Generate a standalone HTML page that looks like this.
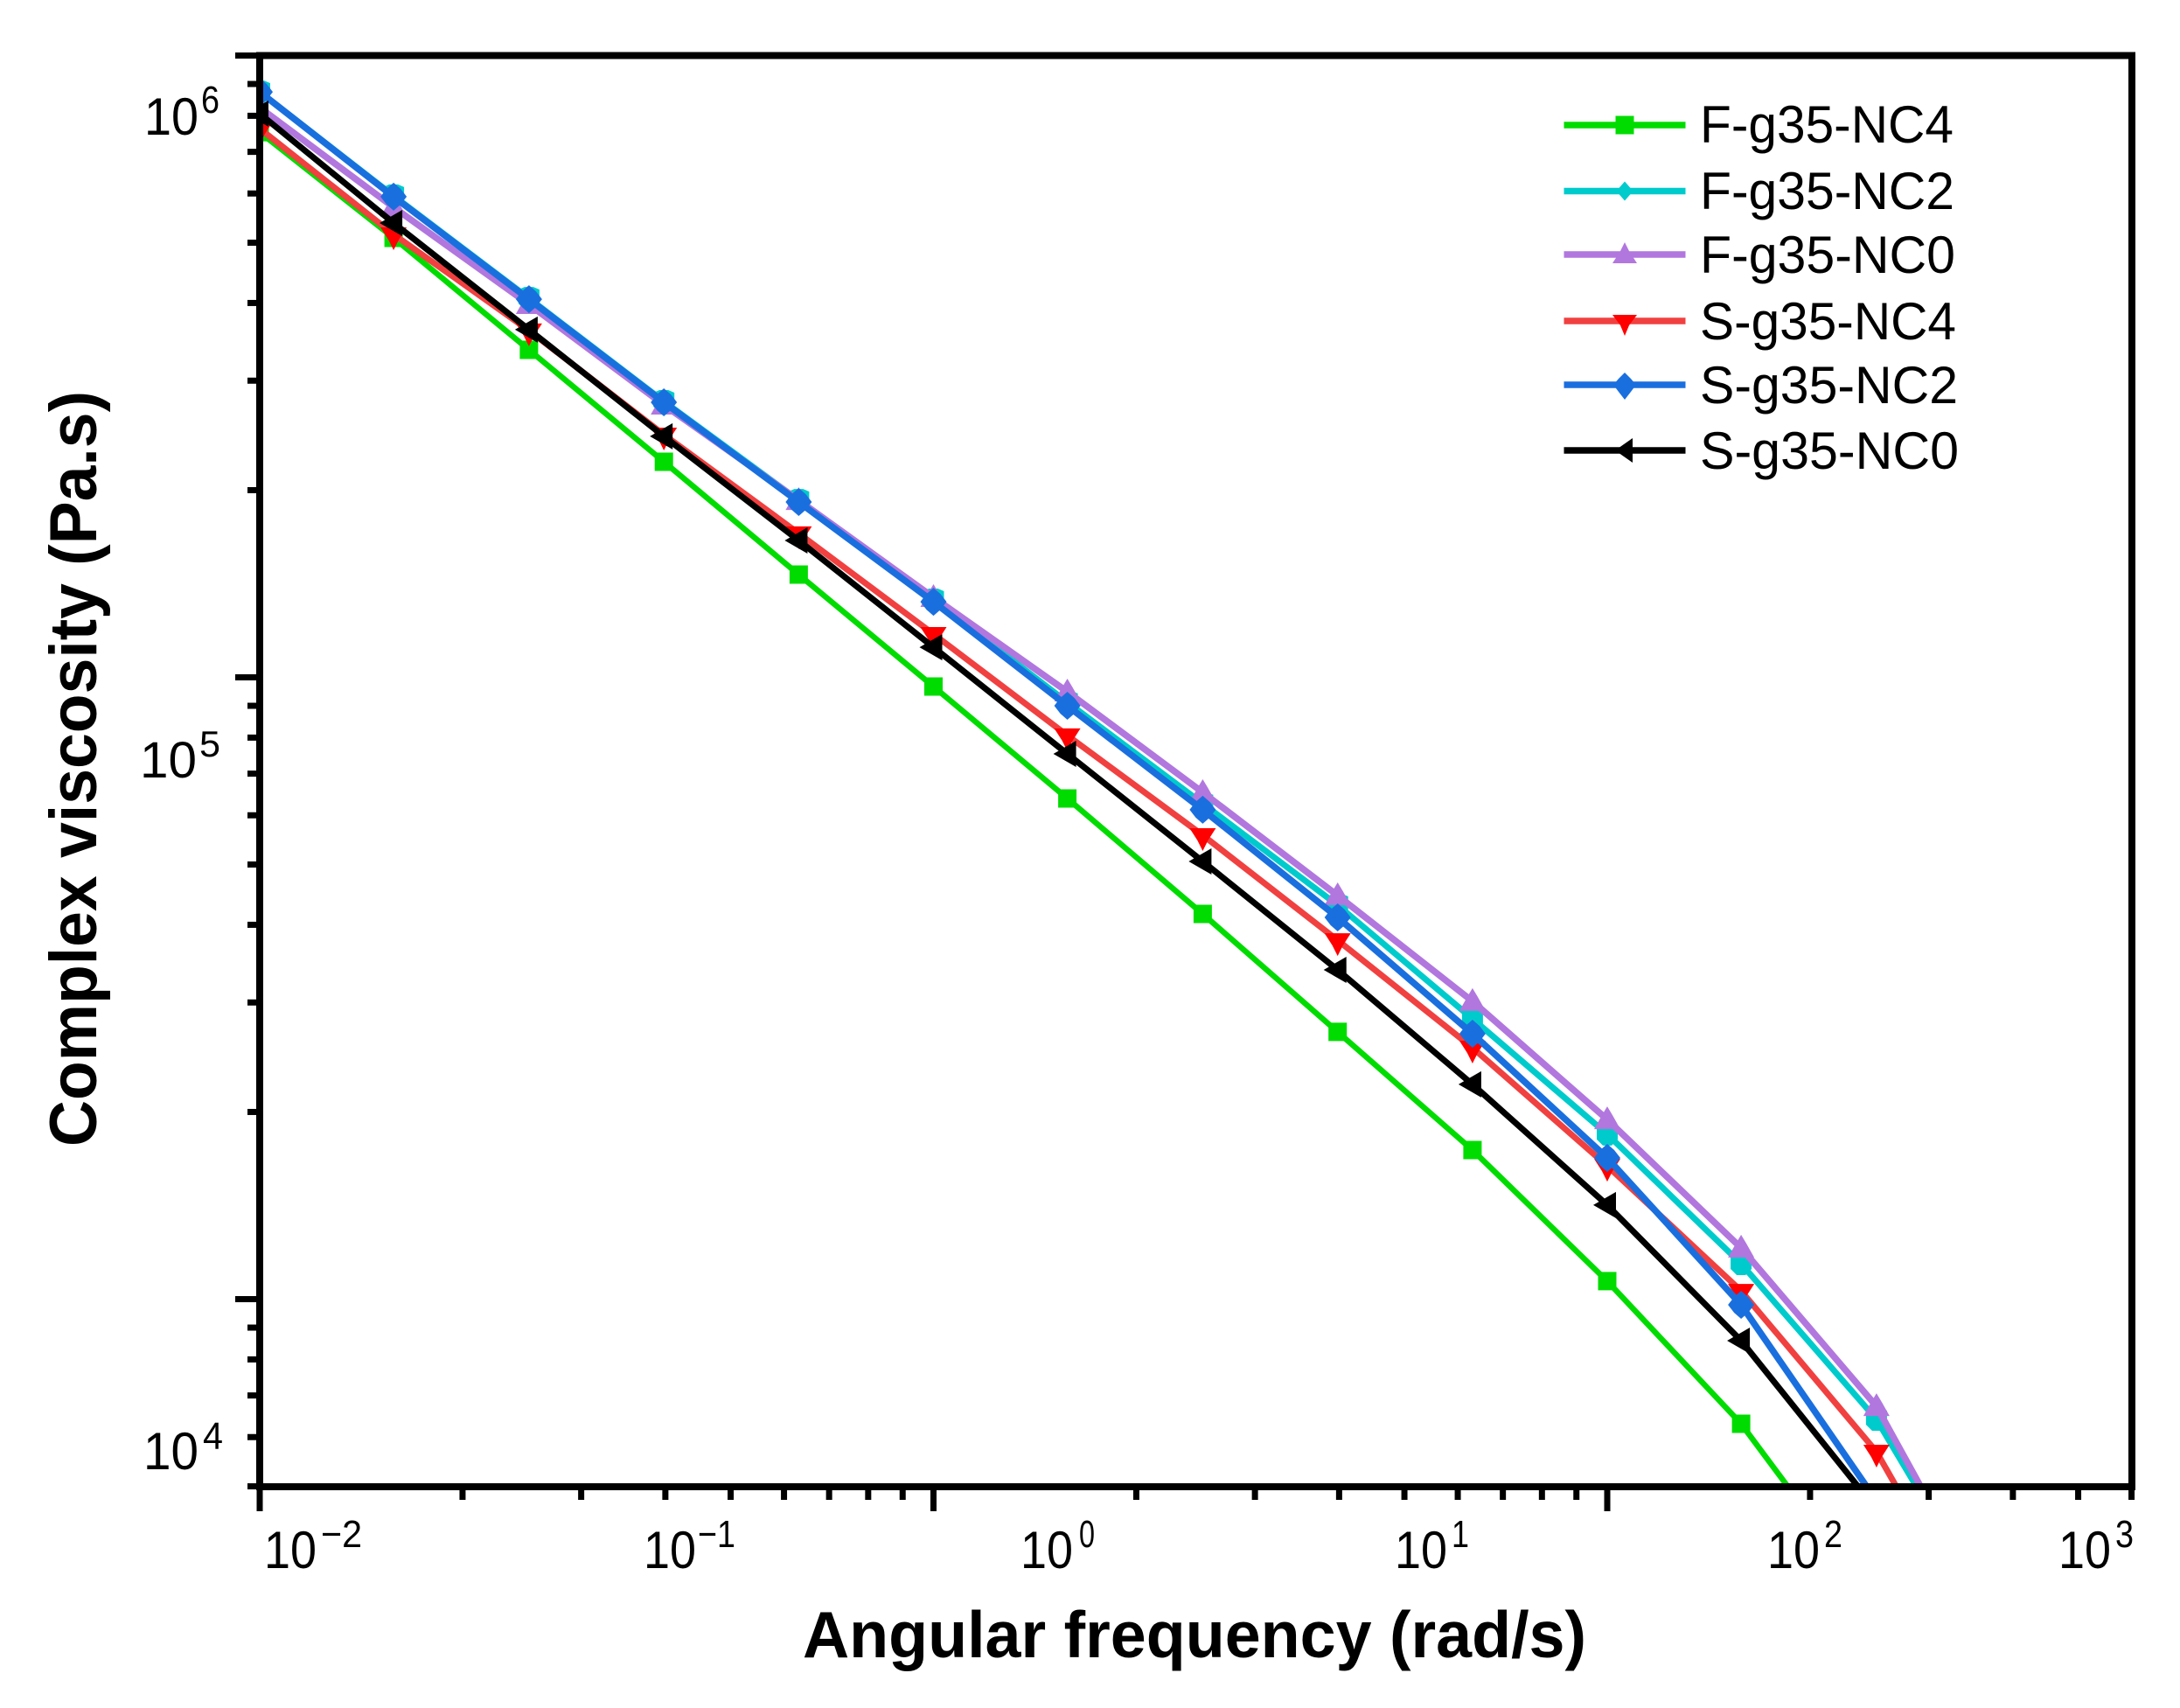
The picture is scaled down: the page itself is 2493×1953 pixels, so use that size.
<!DOCTYPE html>
<html lang="en">
<head>
<meta charset="utf-8">
<title>Complex viscosity vs angular frequency</title>
<style>
html,body{margin:0;padding:0;background:#fff;}
svg{display:block;}
text{font-family:"Liberation Sans",Arial,sans-serif;fill:#000;}
</style>
</head>
<body>
<svg id="chart" xmlns="http://www.w3.org/2000/svg" width="2493" height="1953" viewBox="0 0 2493 1953">
  <defs>
    <clipPath id="plot-clip"><rect x="297" y="63" width="2141" height="1637"/></clipPath>
  </defs>
  <rect x="0" y="0" width="2493" height="1953" fill="#ffffff"/>
  <g id="series-layer" clip-path="url(#plot-clip)"></g>
  <g id="axis-layer"></g>
  <g id="legend-layer"></g>

  <g>
    <g><text x="302" y="1793" font-size="60" textLength="60" lengthAdjust="spacingAndGlyphs">10</text><text x="367" y="1769" font-size="44" textLength="47" lengthAdjust="spacingAndGlyphs">−2</text></g>
    <g><text x="736" y="1793" font-size="60" textLength="60" lengthAdjust="spacingAndGlyphs">10</text><text x="798" y="1769" font-size="44" textLength="43" lengthAdjust="spacingAndGlyphs">−1</text></g>
    <g><text x="1167" y="1793" font-size="60" textLength="60" lengthAdjust="spacingAndGlyphs">10</text><text x="1234" y="1769" font-size="44" textLength="18" lengthAdjust="spacingAndGlyphs">0</text></g>
    <g><text x="1595" y="1793" font-size="60" textLength="60" lengthAdjust="spacingAndGlyphs">10</text><text x="1660" y="1769" font-size="44" textLength="20" lengthAdjust="spacingAndGlyphs">1</text></g>
    <g><text x="2021" y="1793" font-size="60" textLength="60" lengthAdjust="spacingAndGlyphs">10</text><text x="2086" y="1769" font-size="44" textLength="21" lengthAdjust="spacingAndGlyphs">2</text></g>
    <g><text x="2354" y="1793" font-size="60" textLength="60" lengthAdjust="spacingAndGlyphs">10</text><text x="2419" y="1769" font-size="44" textLength="21" lengthAdjust="spacingAndGlyphs">3</text></g>
  </g>
  <g>
    <g><text x="165" y="154" font-size="60" textLength="62" lengthAdjust="spacingAndGlyphs">10</text><text x="230" y="129" font-size="44" textLength="21" lengthAdjust="spacingAndGlyphs">6</text></g>
    <g><text x="160" y="889" font-size="58" textLength="65" lengthAdjust="spacingAndGlyphs">10</text><text x="228" y="865" font-size="42" textLength="24" lengthAdjust="spacingAndGlyphs">5</text></g>
    <g><text x="164" y="1680" font-size="60" textLength="63" lengthAdjust="spacingAndGlyphs">10</text><text x="232" y="1657" font-size="44" textLength="23" lengthAdjust="spacingAndGlyphs">4</text></g>
  </g>

  <text x="918" y="1895" font-size="75" font-weight="bold" textLength="896" lengthAdjust="spacingAndGlyphs">Angular frequency (rad/s)</text>
  <text transform="translate(110 1311) rotate(-90)" x="0" y="0" font-size="76" font-weight="bold" textLength="864" lengthAdjust="spacingAndGlyphs">Complex viscosity (Pa.s)</text>
</svg>

<script>
// ---- chart data ----
const angularFrequency = [0.01, 0.0158, 0.0251, 0.0398, 0.0631, 0.1, 0.158, 0.251, 0.398, 0.631, 1, 1.58, 2.51, 3.98];

const fG35Nc4 = [753000, 509100, 336300, 222200, 146300, 96650, 63860, 41640, 26900, 17370, 10690, 6304, 3214];
const fG35Nc2 = [874100, 594800, 407000, 277800, 192600, 133200, 91180, 62640, 43010, 28240, 18420, 11400, 6406, 2769];
const fG35Nc0 = [824700, 570200, 398000, 274200, 192600, 134500, 94800, 65310, 44570, 30130, 19450, 12090, 6724, 2716];
const sG35Nc4 = [763100, 515700, 361200, 245600, 170400, 117400, 80650, 55730, 37780, 25370, 16380, 10310, 5683, 2363];
const sG35Nc2 = [874100, 592900, 405700, 276900, 191400, 132300, 90000, 61240, 41110, 26720, 16870, 9793, 4741];
const sG35Nc0 = [806500, 537900, 362400, 244100, 166000, 111800, 75320, 50570, 33850, 22150, 14170, 8574, 4588];

const seriesNames = ["F-g35-NC4", "F-g35-NC2", "F-g35-NC0", "S-g35-NC4", "S-g35-NC2", "S-g35-NC0"];
const seriesValues = [fG35Nc4, fG35Nc2, fG35Nc0, sG35Nc4, sG35Nc2, sG35Nc0];

const xMajorTicks = [0.01, 0.1, 1];
const xMinorTicks = [0.02, 0.03, 0.04, 0.05, 0.06, 0.07, 0.08, 0.09, 0.2, 0.3, 0.4, 0.5, 0.6, 0.7, 0.8, 0.9, 2, 3, 4, 5, 6];
const yMajorTicks = [1000000, 100000, 10000];
const yMinorTicks = [900000, 800000, 700000, 600000, 500000, 400000, 300000, 200000, 90000, 80000, 70000, 60000, 50000, 40000, 30000, 20000, 9000, 8000, 7000, 6000, 5000];

// ---- styles ----
const lineColors = ["#00DC00", "#00CBCC", "#B177DE", "#F14040", "#1A6FDF", "#000000"];
const markerColors = ["#00DC00", "#00CBCC", "#B177DE", "#FF0000", "#1A6FDF", "#000000"];
const lineWidths = [6.5, 7, 7.5, 7, 7.5, 7];
const markerShapes = [
  "-10.5,-10.5 10.5,-10.5 10.5,10.5 -10.5,10.5",
  "-12,-10 -5,-13 5,-13 12,-10 12,6 5,13 -5,13 -12,6",
  "0,-15 6,-5 15,11 -15,11 -6,-5",
  "-15,-8 15,-8 6,6 0,18 -6,6",
  "0,-16 8,-9 15,0 8,9 0,16 -8,9 -15,0 -8,-9",
  "-16,0 10,-15 10,15"
];
const legendShapes = [
  "-10.5,-10.5 10.5,-10.5 10.5,10.5 -10.5,10.5",
  "0,-11 7,-3 7,3 0,11 -7,3 -7,-3",
  "0,-14 5,-4 14,10 -14,10 -5,-4",
  "-14,-7 14,-7 5,5 0,17 -5,5",
  "0,-14 7,-7 13,0 7,8 0,17 -7,8 -13,0 -7,-7",
  "-11,0 9,-14 9,14"
];
const legendRowY = [143, 218.5, 291, 367, 440, 515];
const legendBaseline = [163, 239, 312, 388, 461, 536];
const legendTextWidth = [290, 291, 292, 293, 295, 296];

// ---- axis functions ----
const X_LEFT = 297, X_DECADE = 770.5, Y_TOP = 63.5, Y_DECADE = 711;
function xScale(v) { return X_LEFT + (Math.log10(v) + 2) * X_DECADE; }
function yScale(v) { return Y_TOP + (6 - Math.log10(v)) * Y_DECADE; }

const NS = "http://www.w3.org/2000/svg";
function mk(tag, attrs, parent) {
  const el = document.createElementNS(NS, tag);
  for (const k in attrs) el.setAttribute(k, attrs[k]);
  parent.appendChild(el);
  return el;
}

// ---- series ----
const seriesLayer = document.getElementById("series-layer");
seriesValues.forEach(function (vals, s) {
  const group = mk("g", {}, seriesLayer);
  
  
  const pts = vals.map(function (v, i) { return xScale(angularFrequency[i]).toFixed(1) + "," + yScale(v).toFixed(1); }).join(" ");
  const line = mk("polyline", { points: pts, fill: "none", stroke: lineColors[s], "stroke-width": lineWidths[s], "stroke-linejoin": "round" }, group);
  
  
  vals.forEach(function (v, i) {
    const px = xScale(angularFrequency[i]);
    const py = yScale(v);
    const marker = mk("polygon", { points: markerShapes[s], fill: markerColors[s], transform: "translate(" + px.toFixed(1) + " " + py.toFixed(1) + ")" }, group);
    
    
  });
});

// ---- axes ----
const axisLayer = document.getElementById("axis-layer");
const frame = mk("rect", { x: 297, y: 63.5, width: 2141, height: 1636.5, fill: "none", stroke: "#000", "stroke-width": 8 }, axisLayer);



xMajorTicks.forEach(function (v) {
  const t = mk("line", { x1: xScale(v), x2: xScale(v), y1: 1700, y2: 1728, stroke: "#000", "stroke-width": 7 }, axisLayer);
  
  
});
xMinorTicks.forEach(function (v) {
  const t = mk("line", { x1: xScale(v), x2: xScale(v), y1: 1700, y2: 1715, stroke: "#000", "stroke-width": 7 }, axisLayer);
  
  
});
yMajorTicks.forEach(function (v) {
  const t = mk("line", { x1: 269, x2: 297, y1: yScale(v), y2: yScale(v), stroke: "#000", "stroke-width": 7 }, axisLayer);
  
  
});
yMinorTicks.forEach(function (v) {
  const t = mk("line", { x1: 283, x2: 297, y1: yScale(v), y2: yScale(v), stroke: "#000", "stroke-width": 7 }, axisLayer);
  
  
});

// ---- legend ----
const legendLayer = document.getElementById("legend-layer");
seriesNames.forEach(function (name, s) {
  const entry = mk("g", {}, legendLayer);
  
  
  const swatch = mk("line", { x1: 1788.5, x2: 1927.5, y1: legendRowY[s], y2: legendRowY[s], stroke: lineColors[s], "stroke-width": 7.5 }, entry);
  
  
  const mark = mk("polygon", { points: legendShapes[s], fill: markerColors[s], transform: "translate(1858 " + legendRowY[s] + ")" }, entry);
  
  
  const label = mk("text", { x: 1944, y: legendBaseline[s], "font-size": 60, textLength: legendTextWidth[s], lengthAdjust: "spacingAndGlyphs" }, entry);
  
  
  label.textContent = name;
});
</script>
</body>
</html>
